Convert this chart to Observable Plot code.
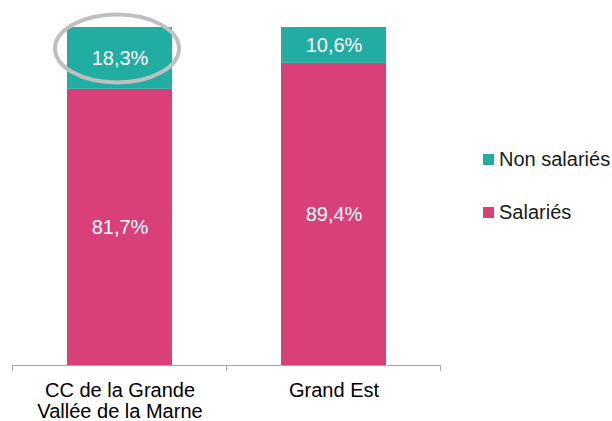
<!DOCTYPE html>
<html>
<head>
<meta charset="utf-8">
<script src="https://cdn.jsdelivr.net/npm/d3@7"></script>
<script src="https://cdn.jsdelivr.net/npm/@observablehq/plot@0.6"></script>
<style>
  html, body { margin: 0; padding: 0; background: #fff; }
  #wrap { position: relative; width: 612px; height: 421px; font-family: "Liberation Sans", Arial, sans-serif; }
  #legend { position: absolute; left: 483px; top: 149px; font-size: 20px; line-height: 20px; color: #1a1a1a; }
  #legend .item { height: 53px; white-space: nowrap; }
  #legend .sw { display: inline-block; width: 11px; height: 11px; margin-right: 5px; vertical-align: 1px; }
</style>
</head>
<body>
<div id="wrap"></div>
<script>
// ---- data ----
const categories = ["CC de la Grande\nVallée de la Marne", "Grand Est"];
const series = ["Salariés", "Non salariés"];
const salaries = [81.7, 89.4];
const nonSalaries = [18.3, 10.6];
const seriesColors = ["#d9407a", "#21ada1"];
const legendOrder = ["Non salariés", "Salariés"];
const highlightedCategory = categories[0];

const rows = [];
categories.forEach((c, i) => {
  rows.push({cat: c, series: series[0], value: salaries[i]});
  rows.push({cat: c, series: series[1], value: nonSalaries[i]});
});
const fmt = v => v.toFixed(1).replace(".", ",") + "%";

// boundary ticks of the category axis
function boundaryTicks(index, scales, values, dims) {
  const x = scales.x, y = scales.y;
  const bw = x.bandwidth();
  const step = x(categories[1]) - x(categories[0]);
  const gap = (step - bw) / 2;
  const xs = [x(categories[0]) - gap, ...categories.map(c => x(c) + bw + gap)];
  const y0 = y(0);
  const g = d3.create("svg:g").attr("stroke", "#a6a6a6").attr("stroke-width", 1);
  xs.forEach(px => g.append("line").attr("x1", px).attr("x2", px).attr("y1", y0).attr("y2", y0 + 6));
  return g.node();
}

// highlight ellipse around the "Non salariés" value of the first category
function highlight(index, scales) {
  const x = scales.x, y = scales.y;
  const bw = x.bandwidth();
  const cx = x(highlightedCategory) + bw / 2 - 2.5;
  const cy = y(100) + 21.5;
  return d3.create("svg:ellipse")
    .attr("cx", cx).attr("cy", cy)
    .attr("rx", bw / 2 + 9.5).attr("ry", 34)
    .attr("fill", "none").attr("stroke", "#bfbfbf").attr("stroke-width", 4)
    .node();
}

const chart = Plot.plot({
  width: 612,
  height: 421,
  marginLeft: 12,
  marginRight: 171.5,
  marginTop: 27,
  marginBottom: 56,
  style: {fontFamily: "Liberation Sans, Arial, sans-serif", background: "#fff"},
  x: {domain: categories, paddingInner: 0.51, paddingOuter: 0.255, label: null},
  y: {domain: [0, 100], axis: null},
  color: {domain: series, range: seriesColors},
  marks: [
    Plot.barY(rows, Plot.stackY({x: "cat", y: "value", fill: "series", z: "series", order: series})),
    Plot.text(rows, Plot.stackY({x: "cat", y: "value", z: "series", order: series, text: d => fmt(d.value), fill: "white", fontSize: 20})),
    Plot.ruleY([0], {stroke: "#a6a6a6", strokeWidth: 1}),
    boundaryTicks,
    Plot.axisX({tickSize: 0, tickPadding: 17, fontSize: 20, lineHeight: 1.05, color: "black", label: null}),
    highlight
  ]
});

const wrap = document.getElementById("wrap");
wrap.appendChild(chart);

const legend = document.createElement("div");
legend.id = "legend";
legendOrder.forEach(s => {
  const item = document.createElement("div");
  item.className = "item";
  const sw = document.createElement("span");
  sw.className = "sw";
  sw.style.background = seriesColors[series.indexOf(s)];
  item.appendChild(sw);
  item.appendChild(document.createTextNode(s));
  legend.appendChild(item);
});
wrap.appendChild(legend);
</script>
</body>
</html>
